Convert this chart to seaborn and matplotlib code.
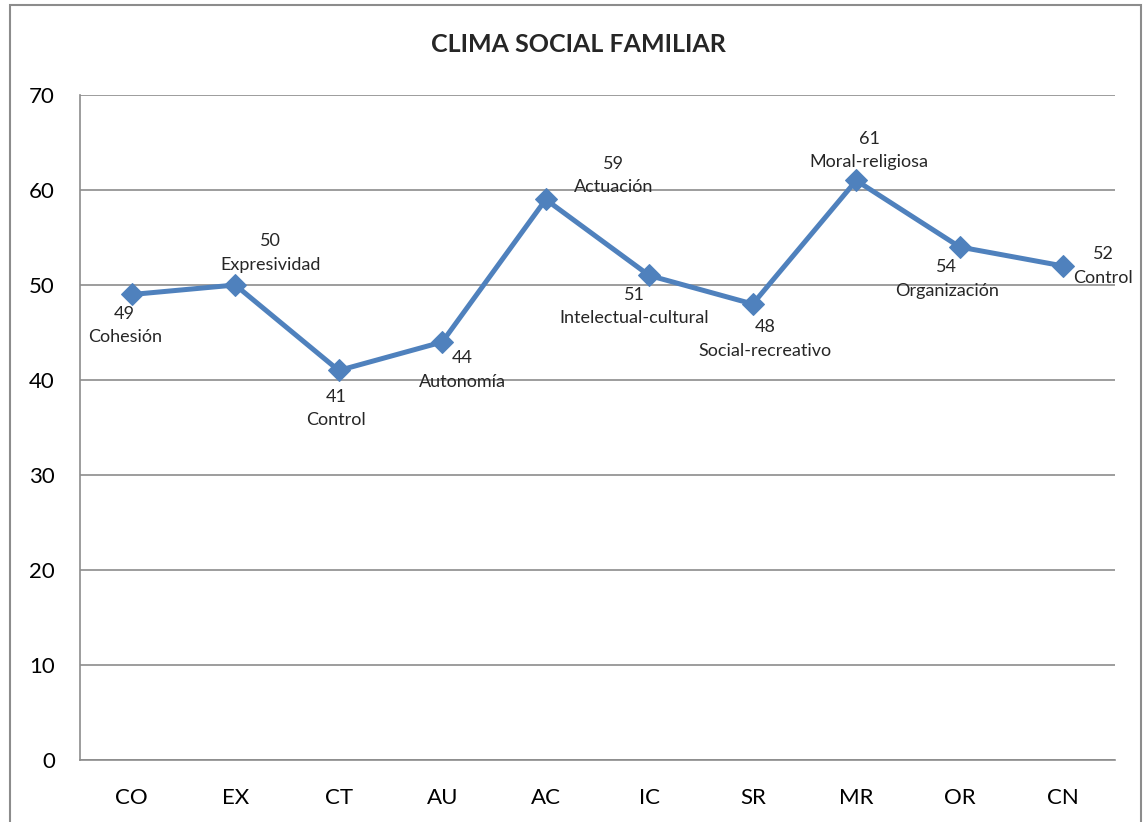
import matplotlib
matplotlib.use("Agg")
import matplotlib.pyplot as plt
import seaborn as sns
import pandas as pd
from matplotlib.patches import Rectangle

categories = ["CO", "EX", "CT", "AU", "AC", "IC", "SR", "MR", "OR", "CN"]
values = [49, 50, 41, 44, 59, 51, 48, 61, 54, 52]
names = ["Cohesión", "Expresividad", "Control", "Autonomía", "Actuación",
         "Intelectual-cultural", "Social-recreativo", "Moral-religiosa",
         "Organización", "Control"]
# label offsets in pixels (dx, dy) from the point
offsets = [(-7, -31), (35, 32), (-3, -38), (20, -28), (68, 24),
           (-15, -31), (12, -35), (13, 30), (-13, -32), (40, 0)]

sns.set_theme(style="white")
plt.rcParams['font.family'] = ['Lato', 'DejaVu Sans']

df = pd.DataFrame({"cat": categories, "val": values})

fig = plt.figure(figsize=(11.47, 8.22), dpi=100)
ax = fig.add_axes([80/1147, 62/822, (1115-80)/1147, (760-95)/822])

sns.lineplot(data=df, x="cat", y="val", sort=False, ax=ax, color="#4F81BD",
             linewidth=3.6, marker="D", markersize=11, markeredgecolor="#4F81BD")

ax.set_xlim(-0.5, len(categories) - 0.5)
ax.set_ylim(0, 70)
ax.set_yticks(range(0, 71, 10))
ax.set_xlabel("")
ax.set_ylabel("")
ax.yaxis.grid(True, color="#8c8c8c", linewidth=1.2)
ax.set_axisbelow(True)
for s in ["top", "right"]:
    ax.spines[s].set_visible(False)
for s in ["left", "bottom"]:
    ax.spines[s].set_color("#8c8c8c")
    ax.spines[s].set_linewidth(1.2)
ax.tick_params(axis="both", length=0, labelsize=16, colors="black")
ax.tick_params(axis="y", pad=18)
ax.tick_params(axis="x", pad=20)

for i, (v, n, (dx, dy)) in enumerate(zip(values, names, offsets)):
    ax.annotate(f"{v}\n{n}", xy=(i, v), xytext=(dx, dy), textcoords="offset pixels",
                ha="center", va="center", fontsize=13, linespacing=1.55)

fig.text(578/1147, 1 - 45/822, "CLIMA SOCIAL FAMILIAR", ha="center", va="center",
         fontsize=18, fontweight="bold")

fig.patches.append(Rectangle((10/1147, -0.02), (1141-10)/1147, (822-5)/822 + 0.02,
                             transform=fig.transFigure, fill=False,
                             edgecolor="#8c8c8c", linewidth=1.5))

fig.savefig("out.png", dpi=100)
